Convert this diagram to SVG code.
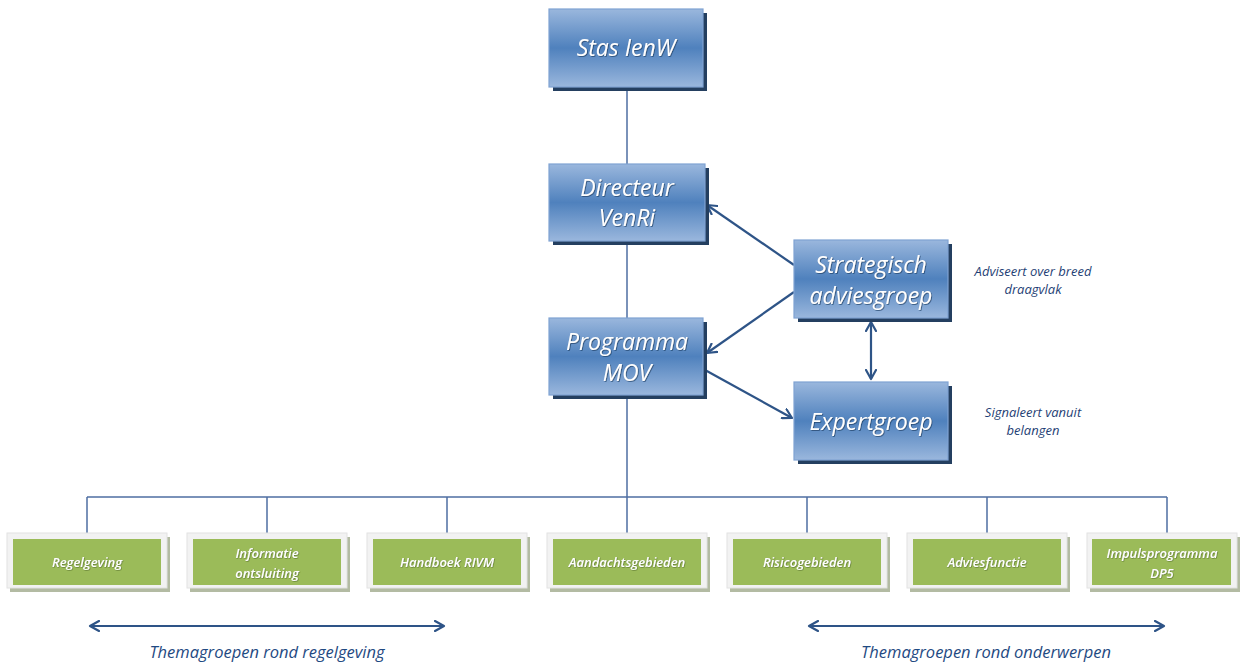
<svg xmlns="http://www.w3.org/2000/svg" width="1243" height="662" viewBox="0 0 1243 662">
<defs>
<linearGradient id="blueGrad" x1="0" y1="0" x2="0" y2="1">
<stop offset="0" stop-color="#9ab7dd"/>
<stop offset="0.5" stop-color="#4f81bd"/>
<stop offset="1" stop-color="#9ab7dd"/>
</linearGradient>
<filter id="txtShadow" x="-20%" y="-40%" width="140%" height="180%">
<feDropShadow dx="0.8" dy="0.8" stdDeviation="0.6" flood-color="#1f3a60" flood-opacity="0.8"/>
</filter>
<filter id="greenShadow" x="-20%" y="-40%" width="140%" height="180%">
<feDropShadow dx="0.6" dy="0.6" stdDeviation="0.5" flood-color="#4d6325" flood-opacity="0.8"/>
</filter>
<marker id="arrowOpen" markerWidth="12" markerHeight="12" refX="10" refY="6" orient="auto-start-reverse" markerUnits="userSpaceOnUse">
<path d="M1,1 L10,6 L1,11" fill="none" stroke="#2e5487" stroke-width="2.2" stroke-linecap="round" stroke-linejoin="round"/>
</marker>
</defs>
<style>
.bshadow{fill:#243f60}
.bbox{fill:url(#blueGrad);stroke:#7fa2d2;stroke-width:1.2}
.btxt{font-family:"Open Sans","Liberation Sans",sans-serif;font-style:italic;font-size:23px;fill:#ffffff;text-anchor:middle;filter:url(#txtShadow)}
.gshadow{fill:#b3bba3}
.gframe{fill:#f2f2f2;stroke:#e2e2e2;stroke-width:1}
.gbox{fill:#9bbb59}
.gtxt{font-family:"Open Sans","Liberation Sans",sans-serif;font-style:italic;font-weight:600;font-size:13px;fill:#ffffff;text-anchor:middle;filter:url(#greenShadow)}
.tree{fill:none;stroke:#4f6fa3;stroke-width:1.5}
.arr{fill:none;stroke:#2e5487;stroke-width:2.2}
.note{font-family:"Open Sans","Liberation Sans",sans-serif;font-style:italic;font-size:13px;fill:#1f3f75;text-anchor:middle}
.cap{font-family:"Open Sans","Liberation Sans",sans-serif;font-style:italic;font-size:16.5px;fill:#1f4a82;text-anchor:middle}
</style>

<g id="connectors">
<path class="tree" d="M627,88 V164 M627,241 V318 M627,395 V497 M87,497 H1167 M87,497 V533 M267,497 V533 M447,497 V533 M627,497 V533 M807,497 V533 M987,497 V533 M1167,497 V533"/>
<line class="arr" x1="794" y1="265" x2="707" y2="205" marker-end="url(#arrowOpen)"/>
<line class="arr" x1="794" y1="292" x2="707" y2="353" marker-end="url(#arrowOpen)"/>
<line class="arr" x1="705" y1="370" x2="792" y2="418" marker-end="url(#arrowOpen)"/>
<line class="arr" x1="871" y1="322" x2="871" y2="379" marker-start="url(#arrowOpen)" marker-end="url(#arrowOpen)"/>
<line class="arr" x1="90" y1="626" x2="444" y2="626" marker-start="url(#arrowOpen)" marker-end="url(#arrowOpen)"/>
<line class="arr" x1="809" y1="626" x2="1164" y2="626" marker-start="url(#arrowOpen)" marker-end="url(#arrowOpen)"/>
</g>

<g id="stas">
<rect class="bshadow" x="553" y="13" width="154" height="78"/>
<rect class="bbox" x="549" y="9" width="154" height="78"/>
<text class="btxt" x="626" y="56">Stas IenW</text>
</g>
<g id="directeur">
<rect class="bshadow" x="553" y="168" width="156" height="77"/>
<rect class="bbox" x="549" y="164" width="156" height="77"/>
<text class="btxt" x="627" y="196">Directeur</text>
<text class="btxt" x="627" y="226">VenRi</text>
</g>
<g id="programma">
<rect class="bshadow" x="553" y="322" width="154" height="77"/>
<rect class="bbox" x="549" y="318" width="154" height="77"/>
<text class="btxt" x="627" y="350">Programma</text>
<text class="btxt" x="627" y="381">MOV</text>
</g>
<g id="strategisch">
<rect class="bshadow" x="798" y="244" width="154" height="78"/>
<rect class="bbox" x="794" y="240" width="154" height="78"/>
<text class="btxt" x="871" y="273">Strategisch</text>
<text class="btxt" x="871" y="304">adviesgroep</text>
</g>
<g id="expertgroep">
<rect class="bshadow" x="798" y="386" width="154" height="78"/>
<rect class="bbox" x="794" y="382" width="154" height="78"/>
<text class="btxt" x="871" y="430">Expertgroep</text>
</g>

<g id="note-adviseert">
<text class="note" x="1033" y="276">Adviseert over breed</text>
<text class="note" x="1033" y="294">draagvlak</text>
</g>
<g id="note-signaleert">
<text class="note" x="1033" y="417">Signaleert vanuit</text>
<text class="note" x="1033" y="435">belangen</text>
</g>

<g id="regelgeving">
<rect class="gshadow" x="10" y="537" width="160" height="55"/>
<rect class="gframe" x="7" y="533" width="160" height="55"/>
<rect class="gbox" x="13" y="539" width="148" height="46"/>
<text class="gtxt" x="87" y="567">Regelgeving</text>
</g>
<g id="informatie">
<rect class="gshadow" x="190" y="537" width="160" height="55"/>
<rect class="gframe" x="187" y="533" width="160" height="55"/>
<rect class="gbox" x="193" y="539" width="148" height="46"/>
<text class="gtxt" x="267" y="558">Informatie</text>
<text class="gtxt" x="267" y="578">ontsluiting</text>
</g>
<g id="handboek">
<rect class="gshadow" x="370" y="537" width="160" height="55"/>
<rect class="gframe" x="367" y="533" width="160" height="55"/>
<rect class="gbox" x="373" y="539" width="148" height="46"/>
<text class="gtxt" x="447" y="567">Handboek RIVM</text>
</g>
<g id="aandachtsgebieden">
<rect class="gshadow" x="550" y="537" width="160" height="55"/>
<rect class="gframe" x="547" y="533" width="160" height="55"/>
<rect class="gbox" x="553" y="539" width="148" height="46"/>
<text class="gtxt" x="627" y="567">Aandachtsgebieden</text>
</g>
<g id="risicogebieden">
<rect class="gshadow" x="730" y="537" width="160" height="55"/>
<rect class="gframe" x="727" y="533" width="160" height="55"/>
<rect class="gbox" x="733" y="539" width="148" height="46"/>
<text class="gtxt" x="807" y="567">Risicogebieden</text>
</g>
<g id="adviesfunctie">
<rect class="gshadow" x="910" y="537" width="160" height="55"/>
<rect class="gframe" x="907" y="533" width="160" height="55"/>
<rect class="gbox" x="913" y="539" width="148" height="46"/>
<text class="gtxt" x="987" y="567">Adviesfunctie</text>
</g>
<g id="impulsprogramma">
<rect class="gshadow" x="1090" y="537" width="150" height="55"/>
<rect class="gframe" x="1087" y="533" width="150" height="55"/>
<rect class="gbox" x="1092" y="539" width="139" height="46"/>
<text class="gtxt" x="1162" y="558">Impulsprogramma</text>
<text class="gtxt" x="1162" y="578">DP5</text>
</g>

<g id="captions">
<text class="cap" x="267" y="658">Themagroepen rond regelgeving</text>
<text class="cap" x="986" y="658">Themagroepen rond onderwerpen</text>
</g>
</svg>
